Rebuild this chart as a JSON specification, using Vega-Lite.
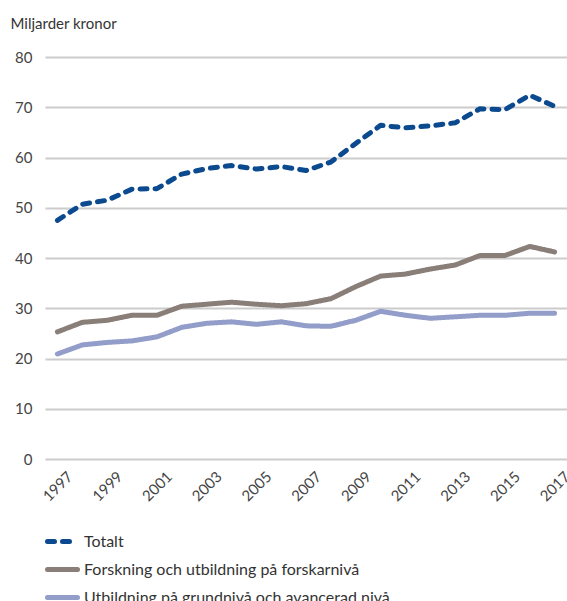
{
  "$schema": "https://vega.github.io/schema/vega-lite/v6.json",
  "width": 522,
  "height": 402,
  "autosize": {"type": "none"},
  "padding": {"left": 45, "top": 57, "right": 0, "bottom": 142},
  "background": "white",
  "config": {
    "font": "Lato",
    "view": {"stroke": null}
  },
  "data": {
    "values": [
      {"year": 1997, "series": "Totalt", "value": 47.5},
      {"year": 1998, "series": "Totalt", "value": 50.7},
      {"year": 1999, "series": "Totalt", "value": 51.5},
      {"year": 2000, "series": "Totalt", "value": 53.7},
      {"year": 2001, "series": "Totalt", "value": 53.8},
      {"year": 2002, "series": "Totalt", "value": 56.7},
      {"year": 2003, "series": "Totalt", "value": 57.8},
      {"year": 2004, "series": "Totalt", "value": 58.4},
      {"year": 2005, "series": "Totalt", "value": 57.7},
      {"year": 2006, "series": "Totalt", "value": 58.2},
      {"year": 2007, "series": "Totalt", "value": 57.4},
      {"year": 2008, "series": "Totalt", "value": 59.1},
      {"year": 2009, "series": "Totalt", "value": 62.8},
      {"year": 2010, "series": "Totalt", "value": 66.4},
      {"year": 2011, "series": "Totalt", "value": 65.9},
      {"year": 2012, "series": "Totalt", "value": 66.3},
      {"year": 2013, "series": "Totalt", "value": 66.9},
      {"year": 2014, "series": "Totalt", "value": 69.7},
      {"year": 2015, "series": "Totalt", "value": 69.5},
      {"year": 2016, "series": "Totalt", "value": 72.4},
      {"year": 2017, "series": "Totalt", "value": 70.2},
      {"year": 1997, "series": "Forskning och utbildning på forskarnivå", "value": 25.3},
      {"year": 1998, "series": "Forskning och utbildning på forskarnivå", "value": 27.2},
      {"year": 1999, "series": "Forskning och utbildning på forskarnivå", "value": 27.6},
      {"year": 2000, "series": "Forskning och utbildning på forskarnivå", "value": 28.6},
      {"year": 2001, "series": "Forskning och utbildning på forskarnivå", "value": 28.6},
      {"year": 2002, "series": "Forskning och utbildning på forskarnivå", "value": 30.4},
      {"year": 2003, "series": "Forskning och utbildning på forskarnivå", "value": 30.8},
      {"year": 2004, "series": "Forskning och utbildning på forskarnivå", "value": 31.2},
      {"year": 2005, "series": "Forskning och utbildning på forskarnivå", "value": 30.8},
      {"year": 2006, "series": "Forskning och utbildning på forskarnivå", "value": 30.5},
      {"year": 2007, "series": "Forskning och utbildning på forskarnivå", "value": 30.9},
      {"year": 2008, "series": "Forskning och utbildning på forskarnivå", "value": 31.9},
      {"year": 2009, "series": "Forskning och utbildning på forskarnivå", "value": 34.3},
      {"year": 2010, "series": "Forskning och utbildning på forskarnivå", "value": 36.4},
      {"year": 2011, "series": "Forskning och utbildning på forskarnivå", "value": 36.8},
      {"year": 2012, "series": "Forskning och utbildning på forskarnivå", "value": 37.8},
      {"year": 2013, "series": "Forskning och utbildning på forskarnivå", "value": 38.6},
      {"year": 2014, "series": "Forskning och utbildning på forskarnivå", "value": 40.5},
      {"year": 2015, "series": "Forskning och utbildning på forskarnivå", "value": 40.5},
      {"year": 2016, "series": "Forskning och utbildning på forskarnivå", "value": 42.3},
      {"year": 2017, "series": "Forskning och utbildning på forskarnivå", "value": 41.2},
      {"year": 1997, "series": "Utbildning på grundnivå och avancerad nivå", "value": 20.9},
      {"year": 1998, "series": "Utbildning på grundnivå och avancerad nivå", "value": 22.7},
      {"year": 1999, "series": "Utbildning på grundnivå och avancerad nivå", "value": 23.2},
      {"year": 2000, "series": "Utbildning på grundnivå och avancerad nivå", "value": 23.5},
      {"year": 2001, "series": "Utbildning på grundnivå och avancerad nivå", "value": 24.3},
      {"year": 2002, "series": "Utbildning på grundnivå och avancerad nivå", "value": 26.2},
      {"year": 2003, "series": "Utbildning på grundnivå och avancerad nivå", "value": 27.0},
      {"year": 2004, "series": "Utbildning på grundnivå och avancerad nivå", "value": 27.3},
      {"year": 2005, "series": "Utbildning på grundnivå och avancerad nivå", "value": 26.8},
      {"year": 2006, "series": "Utbildning på grundnivå och avancerad nivå", "value": 27.3},
      {"year": 2007, "series": "Utbildning på grundnivå och avancerad nivå", "value": 26.5},
      {"year": 2008, "series": "Utbildning på grundnivå och avancerad nivå", "value": 26.4},
      {"year": 2009, "series": "Utbildning på grundnivå och avancerad nivå", "value": 27.6},
      {"year": 2010, "series": "Utbildning på grundnivå och avancerad nivå", "value": 29.4},
      {"year": 2011, "series": "Utbildning på grundnivå och avancerad nivå", "value": 28.6},
      {"year": 2012, "series": "Utbildning på grundnivå och avancerad nivå", "value": 28.0},
      {"year": 2013, "series": "Utbildning på grundnivå och avancerad nivå", "value": 28.3},
      {"year": 2014, "series": "Utbildning på grundnivå och avancerad nivå", "value": 28.6},
      {"year": 2015, "series": "Utbildning på grundnivå och avancerad nivå", "value": 28.6},
      {"year": 2016, "series": "Utbildning på grundnivå och avancerad nivå", "value": 29.0},
      {"year": 2017, "series": "Utbildning på grundnivå och avancerad nivå", "value": 29.0}
    ]
  },
  "mark": {"type": "line", "strokeWidth": 5, "strokeCap": "round", "strokeJoin": "round"},
  "encoding": {
    "x": {
      "field": "year",
      "type": "quantitative",
      "scale": {"domain": [1996.5, 2017.5], "nice": false, "zero": false},
      "axis": {
        "title": null,
        "values": [1997, 1999, 2001, 2003, 2005, 2007, 2009, 2011, 2013, 2015, 2017],
        "format": "d",
        "grid": false,
        "domain": false,
        "ticks": false,
        "labelAngle": -45,
        "labelAlign": "center",
        "labelBaseline": "middle",
        "labelPadding": 27,
        "labelFontSize": 15,
        "labelColor": "#444444",
        "labelFont": "Lato",
        "labelOverlap": false,
        "labelBound": false,
        "labelFlush": false
      }
    },
    "y": {
      "field": "value",
      "type": "quantitative",
      "scale": {"domain": [0, 80], "nice": false},
      "axis": {
        "title": "Miljarder kronor",
        "titleAngle": 0,
        "titleAlign": "left",
        "titleBaseline": "alphabetic",
        "titleX": -35,
        "titleY": -29,
        "titleFontSize": 15,
        "titleFontWeight": "normal",
        "titleColor": "#333333",
        "titleFont": "Lato",
        "values": [0, 10, 20, 30, 40, 50, 60, 70, 80],
        "grid": true,
        "gridColor": "#cccccc",
        "gridWidth": 2,
        "domain": false,
        "ticks": false,
        "labelPadding": 13,
        "labelFontSize": 15,
        "labelColor": "#444444",
        "labelFont": "Lato"
      }
    },
    "color": {
      "field": "series",
      "type": "nominal",
      "scale": {
        "domain": ["Totalt", "Forskning och utbildning på forskarnivå", "Utbildning på grundnivå och avancerad nivå"],
        "range": ["#0b4a8f", "#8a7e79", "#939dca"]
      },
      "legend": {
        "title": null,
        "orient": "none",
        "legendX": 0,
        "legendY": 467,
        "direction": "vertical",
        "symbolType": "stroke",
        "symbolSize": 900,
        "symbolStrokeWidth": 5,
        "labelFontSize": 16,
        "labelColor": "#333333",
        "labelFont": "Lato",
        "labelOffset": 4,
        "labelLimit": 500,
        "rowPadding": -4,
        "padding": 0,
        "encode": {
          "symbols": {
            "update": {
              "strokeDash": {"signal": "datum.value === 'Totalt' ? [10, 7] : [1, 0]"},
              "strokeCap": {"value": "round"}
            }
          }
        }
      }
    },
    "strokeDash": {
      "field": "series",
      "type": "nominal",
      "scale": {
        "domain": ["Totalt", "Forskning och utbildning på forskarnivå", "Utbildning på grundnivå och avancerad nivå"],
        "range": [[7, 8], [1, 0], [1, 0]]
      },
      "legend": null
    }
  }
}
